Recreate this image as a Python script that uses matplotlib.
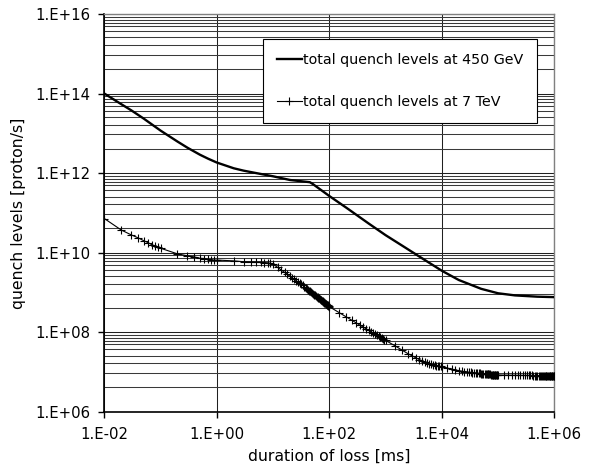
import numpy as np
import matplotlib
matplotlib.use("Agg")
import matplotlib.pyplot as plt
from matplotlib.ticker import FixedLocator, FuncFormatter, NullFormatter

# ---------------- data ----------------
series_names = ["total quench levels at 450 GeV", "total quench levels at 7 TeV"]

x_450 = [0.01, 0.02, 0.03, 0.05, 0.1, 0.2, 0.3, 0.5, 0.7, 1, 2, 3, 5, 10, 20, 45, 50,
         100, 200, 500, 1000, 2000, 5000, 1e4, 2e4, 5e4, 1e5, 2e5, 5e5, 1e6]
y_450 = [1.0e14, 5.4e13, 3.8e13, 2.35e13, 1.17e13, 6.2e12, 4.35e12, 2.9e12, 2.3e12,
         1.84e12, 1.32e12, 1.15e12, 1.0e12, 8.3e11, 6.7e11, 5.9e11, 5.4e11,
         2.65e11, 1.35e11, 5.4e10, 2.75e10, 1.48e10, 6.5e9, 3.5e9, 2.05e9, 1.23e9,
         9.5e8, 8.4e8, 7.8e8, 7.6e8]

x_7tev = [0.01, 0.02, 0.03, 0.04, 0.05, 0.06, 0.07, 0.08, 0.09,
          0.1, 0.2, 0.3, 0.4, 0.5, 0.6, 0.7, 0.8, 0.9,
          1, 2, 3, 4, 5, 6, 7, 8, 9,
          10, 12, 14, 16, 18, 20, 22, 24, 26, 28, 30, 32, 34, 36, 38, 40, 42, 44, 46, 48,
          50, 52, 54, 56, 58, 60, 62, 64, 66, 68, 70, 72, 74, 76, 78, 80, 82, 84, 86, 88,
          90, 92, 94, 96, 98,
          100, 150, 200, 250, 300, 350, 400, 450, 500, 550, 600, 650, 700, 750, 800, 850,
          900, 950,
          1000, 1500, 2000, 2500, 3000, 3500, 4000, 4500, 5000, 5500, 6000, 6500, 7000,
          7500, 8000, 8500, 9000, 9500,
          10000, 12500, 15000, 17500, 20000, 22500, 25000, 27500, 30000, 32500, 35000,
          37500, 40000, 42500, 45000, 47500, 50000, 52500, 55000, 57500, 60000, 62500,
          65000, 67500, 70000, 72500, 75000, 77500, 80000, 82500, 85000, 87500, 90000,
          92500, 95000, 97500,
          100000, 125000, 150000, 175000, 200000, 225000, 250000, 275000, 300000, 325000,
          350000, 375000, 400000, 425000, 450000, 475000, 500000, 525000, 550000, 575000,
          600000, 625000, 650000, 675000, 700000, 725000, 750000, 775000, 800000, 825000,
          850000, 875000, 900000, 925000, 950000, 975000, 1000000]
y_7tev = [7.2e10, 3.7e10, 2.8e10, 2.35e10, 2.0e10, 1.78e10, 1.58e10, 1.48e10, 1.38e10,
          1.29e10, 9.3e9, 8.3e9, 7.8e9, 7.2e9, 7.1e9, 6.8e9, 6.6e9, 6.5e9,
          6.5e9, 6.2e9, 5.9e9, 5.8e9, 5.75e9, 5.7e9, 5.6e9, 5.55e9, 5.4e9,
          5.13e9, 4.27e9, 3.66e9, 3.21e9, 2.85e9, 2.56e9, 2.33e9, 2.14e9, 1.97e9, 1.83e9,
          1.71e9, 1.59e9, 1.49e9, 1.39e9, 1.31e9, 1.24e9, 1.17e9, 1.11e9, 1.055e9, 1.01e9,
          9.6e8, 9.2e8, 8.8e8, 8.45e8, 8.1e8, 7.8e8, 7.5e8, 7.27e8, 7.02e8, 6.79e8,
          6.57e8, 6.37e8, 6.17e8, 5.99e8, 5.81e8, 5.65e8, 5.5e8, 5.35e8, 5.2e8, 5.07e8,
          4.94e8, 4.82e8, 4.71e8, 4.6e8, 4.49e8,
          4.37e8, 3.09e8, 2.42e8, 2.0e8, 1.72e8, 1.5e8, 1.34e8, 1.22e8, 1.11e8, 1.03e8,
          9.5e7, 8.9e7, 8.35e7, 7.9e7, 7.45e7, 7.08e7, 6.75e7, 6.44e7,
          6.2e7, 4.47e7, 3.47e7, 2.88e7, 2.51e7, 2.24e7, 2.04e7, 1.9e7, 1.78e7, 1.7e7,
          1.62e7, 1.57e7, 1.51e7, 1.48e7, 1.45e7, 1.41e7, 1.4e7, 1.37e7,
          1.35e7, 1.25e7, 1.17e7, 1.12e7, 1.08e7, 1.05e7, 1.02e7, 1.0e7, 9.9e6, 9.75e6,
          9.6e6, 9.5e6, 9.4e6, 9.3e6, 9.2e6, 9.15e6, 9.1e6, 9.05e6, 9.0e6, 8.9e6, 8.85e6,
          8.8e6, 8.75e6, 8.72e6, 8.7e6, 8.65e6, 8.6e6, 8.58e6, 8.55e6, 8.52e6, 8.5e6,
          8.48e6, 8.45e6, 8.42e6, 8.4e6, 8.38e6,
          8.35e6, 8.32e6, 8.3e6, 8.28e6, 8.25e6, 8.23e6, 8.2e6, 8.2e6, 8.2e6, 8.18e6,
          8.15e6, 8.15e6, 8.15e6, 8.13e6, 8.1e6, 8.1e6, 8.1e6, 8.1e6, 8.1e6, 8.08e6,
          8.05e6, 8.05e6, 8.05e6, 8.05e6, 8.05e6, 8.05e6, 8.05e6, 8.03e6, 8.0e6, 8.0e6,
          8.0e6, 8.0e6, 8.0e6, 8.0e6, 8.0e6, 8.0e6, 8.0e6]

x_ticks = [1e-2, 1e0, 1e2, 1e4, 1e6]
y_ticks = [1e6, 1e8, 1e10, 1e12, 1e14, 1e16]
x_label = "duration of loss [ms]"
y_label = "quench levels [proton/s]"

# ---------------- style ----------------
grid_offsets = [0.07, 0.14, 0.22, 0.31, 0.43, 0.59, 0.78, 1.03, 1.39]  # decades below each major line

fig = plt.figure(figsize=(5.94, 4.71), dpi=100)
fig.patch.set_facecolor("white")
ax = fig.add_axes([0.1756, 0.1259, 0.7576, 0.8444])
ax.set_xscale("log")
ax.set_yscale("log")
ax.set_xlim(1e-2, 1e6)
ax.set_ylim(1e6, 1e16)

# grid
minor_y = []
for m in y_ticks[1:]:
    for d in grid_offsets:
        minor_y.append(m * 10 ** (-d))
ax.xaxis.set_major_locator(FixedLocator(x_ticks))
ax.yaxis.set_major_locator(FixedLocator(y_ticks))
ax.xaxis.set_minor_locator(FixedLocator([]))
ax.yaxis.set_minor_locator(FixedLocator(minor_y))
ax.xaxis.set_minor_formatter(NullFormatter())
ax.yaxis.set_minor_formatter(NullFormatter())

fmt = FuncFormatter(lambda v, p: "1.E{:+03d}".format(int(round(np.log10(v)))))
ax.xaxis.set_major_formatter(fmt)
ax.yaxis.set_major_formatter(fmt)

ax.grid(True, which="major", axis="both", color="#202020", lw=0.75)
ax.grid(True, which="minor", axis="y", color="#3a3a3a", lw=0.75)
ax.set_axisbelow(True)

ax.tick_params(which="major", direction="out", length=4, width=1.0, color="black",
               labelsize=10.7)
ax.tick_params(axis="x", which="major", pad=7)
ax.tick_params(axis="y", which="major", pad=6)
ax.tick_params(which="minor", length=0)

for s in ["left", "bottom"]:
    ax.spines[s].set_color("black")
    ax.spines[s].set_linewidth(1.2)
for s in ["top", "right"]:
    ax.spines[s].set_color("#808080")
    ax.spines[s].set_linewidth(1.0)

# curves
ax.plot(x_450, y_450, color="black", lw=1.7, label=series_names[0], zorder=3,
        solid_joinstyle="round")
ax.plot(x_7tev, y_7tev, color="black", lw=0.8, marker="+", ms=6, mew=0.8,
        label=series_names[1], zorder=3)

ax.set_xlabel(x_label, fontsize=11.3)
ax.set_ylabel(y_label, fontsize=11.3)
ax.xaxis.set_label_coords(0.5, -0.094)
ax.yaxis.set_label_coords(-0.174, 0.5)

leg = ax.legend(loc="upper left", bbox_to_anchor=(0.353, 0.723, 0.6086, 0.214),
                mode="expand", borderaxespad=0, fontsize=10.3, frameon=True,
                fancybox=False, borderpad=1.0, labelspacing=1.9, handlelength=1.68,
                handletextpad=0.08, numpoints=1)
leg.get_frame().set_edgecolor("black")
leg.get_frame().set_linewidth(0.8)
leg.get_frame().set_facecolor("white")
leg.get_frame().set_alpha(1.0)
leg.set_zorder(5)

fig.savefig("out.png", dpi=100, facecolor="white")
